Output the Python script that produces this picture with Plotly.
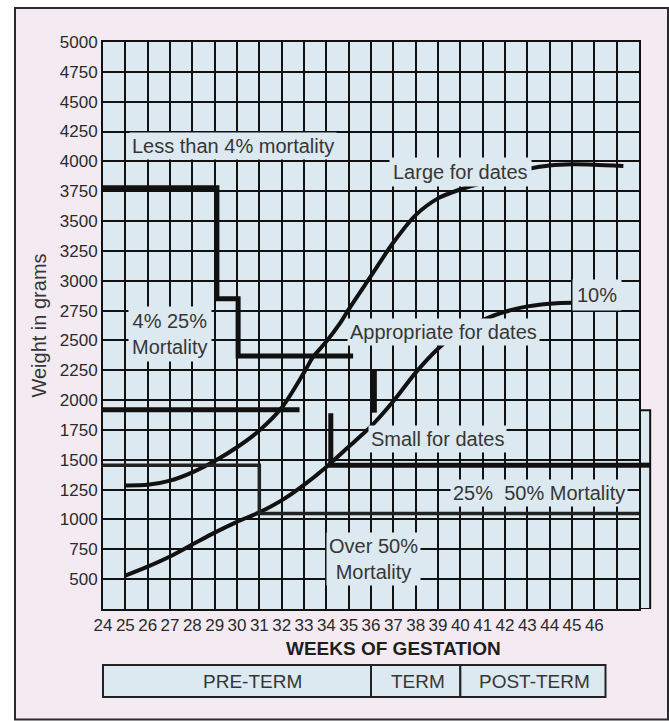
import plotly.graph_objects as go

# ---- axis setup -------------------------------------------------------------
X_RANGE = [24, 48]
Y_RANGE = [250, 5000]
week_ticks = list(range(24, 49))
week_labels = [str(w) for w in range(24, 47)] + ["", ""]
weight_ticks = list(range(500, 5001, 250))

# ---- growth curves (weeks, grams) ------------------------------------------
large_x = [25, 26, 27, 28, 29, 30, 31, 32, 33, 33.4, 34, 34.6, 35, 36, 37, 38,
           39, 40, 41, 42, 43, 44, 45, 46, 47.3]
large_y = [1285, 1290, 1325, 1395, 1490, 1605, 1745, 1935, 2230, 2360, 2490,
           2640, 2760, 3040, 3320, 3550, 3690, 3765, 3820, 3880, 3935, 3965,
           3975, 3972, 3962]

small_x = [25, 26, 27, 28, 29, 30, 31, 32, 33, 34, 35, 36, 37, 38, 39, 40, 41,
           42, 43, 44, 45, 46, 46.9]
small_y = [530, 605, 690, 790, 890, 980, 1060, 1160, 1290, 1440, 1610, 1780,
           1990, 2230, 2430, 2580, 2670, 2740, 2785, 2808, 2815, 2808, 2795]

# ---- mortality zone boundaries ---------------------------------------------
b4_x = [24, 29.1, 29.1, 30.05, 30.05, 35.2]
b4_y = [3780, 3780, 2850, 2850, 2370, 2370]

b4_tail_x = [36.15, 36.15]
b4_tail_y = [2250, 1895]

b25_left_x = [24, 32.8]
b25_left_y = [1920, 1920]

b25_right_x = [34.2, 34.2, 48, 48.5]
b25_right_y = [1890, 1455, 1455, 1455]

b50_x = [24, 31.0, 31.0, 48]
b50_y = [1455, 1455, 1050, 1050]

side_box_top = 1915

# ---- zone labels ------------------------------------------------------------
zone_text = ["Less than 4% mortality", "4% 25%<br>Mortality", "Large for dates",
             "10%", "Appropriate for dates", "Small for dates",
             "25%\u00a0\u00a050% Mortality", "Over 50%<br>Mortality"]
zone_x = [29.8, 27.0, 40.0, 46.1, 39.25, 38.98, 43.52, 36.1]
zone_y = [4127, 2552, 3908, 2879, 2569, 1678, 1218, 665]
zone_pad = [2, 3, 3, 4, 2, 2, 2, 2]

# ---- gestation periods ------------------------------------------------------
period_names = ["PRE-TERM", "TERM", "POST-TERM"]
period_edges = [24, 36, 40, 46.5]
period_label_x = [30.7, 38.1, 43.3]

BLUE = "#dce9f0"
PINK = "#f4eaf2"
INK = "#111111"
TEXT = "#363636"
FONT = "Liberation Sans, Arial, sans-serif"

fig = go.Figure()

common = dict(mode="lines", hoverinfo="skip", showlegend=False)
curve = dict(color=INK, width=4, shape="spline", smoothing=0.8)
step = dict(color=INK, width=5)
fig.add_trace(go.Scatter(x=large_x, y=large_y, line=curve, **common))
fig.add_trace(go.Scatter(x=small_x, y=small_y, line=curve, **common))
fig.add_trace(go.Scatter(x=b4_x, y=b4_y, line=step, **common))
fig.add_trace(go.Scatter(x=b4_tail_x, y=b4_tail_y, line=step, **common))
fig.add_trace(go.Scatter(x=b25_left_x, y=b25_left_y, line=step, **common))
fig.add_trace(go.Scatter(x=b25_right_x[:3], y=b25_right_y[:3], line=step, **common))
fig.add_trace(go.Scatter(x=b50_x, y=b50_y, line=dict(color="#222222", width=3.5), **common))


def px(w):
    """Week value -> paper fraction along the x axis."""
    return (w - X_RANGE[0]) / (X_RANGE[1] - X_RANGE[0])


shapes = [
    # outer card
    dict(type="rect", xref="paper", yref="paper", x0=-0.1642, x1=1.0541,
         y0=-0.195, y1=1.06, fillcolor=PINK, line=dict(color="#2b2b2b", width=2),
         layer="below"),
    # plot background
    dict(type="rect", xref="x", yref="y", x0=X_RANGE[0], x1=X_RANGE[1],
         y0=Y_RANGE[0], y1=Y_RANGE[1], fillcolor=BLUE, line=dict(width=0),
         layer="below"),
    # narrow box on the right of the grid
    dict(type="rect", xref="paper", yref="y", x0=1, x1=px(b25_right_x[-1]),
         y0=Y_RANGE[0], y1=side_box_top, fillcolor=BLUE,
         line=dict(color=INK, width=2), layer="below"),
    # boundary continuing into the side box
    dict(type="line", xref="paper", yref="y", x0=px(b25_right_x[2]),
         x1=px(b25_right_x[3]), y0=b25_right_y[2], y1=b25_right_y[3],
         line=dict(color=INK, width=5)),
]

# gestation period bar
bar_y0, bar_y1 = -0.1552, -0.0988
for i, name in enumerate(period_names):
    shapes.append(dict(type="rect", xref="paper", yref="paper",
                       x0=px(period_edges[i]), x1=px(period_edges[i + 1]),
                       y0=bar_y0, y1=bar_y1, fillcolor=BLUE,
                       line=dict(color="#222222", width=2)))

annotations = []
for t, x, y, p in zip(zone_text, zone_x, zone_y, zone_pad):
    annotations.append(dict(text=t, x=x, y=y, xref="x", yref="y",
                            showarrow=False, bgcolor=BLUE, borderpad=p,
                            xanchor="center", yanchor="middle",
                            font=dict(family=FONT, size=20, color=TEXT)))

for name, x in zip(period_names, period_label_x):
    annotations.append(dict(text=name, x=x, xref="x", y=(bar_y0 + bar_y1) / 2,
                            yref="paper", showarrow=False,
                            xanchor="center", yanchor="middle",
                            font=dict(family=FONT, size=19, color=TEXT)))

annotations.append(dict(text="<b>WEEKS OF GESTATION</b>", x=37.0, xref="x",
                        y=-0.069, yref="paper", showarrow=False,
                        xanchor="center", yanchor="middle",
                        font=dict(family=FONT, size=19, color="#1e1e1e")))

fig.update_layout(
    width=669, height=721,
    margin=dict(l=103, r=30, t=42, b=112),
    paper_bgcolor="white",
    plot_bgcolor="rgba(0,0,0,0)",
    shapes=shapes,
    annotations=annotations,
    font=dict(family=FONT, color="#2a2a2a"),
    xaxis=dict(range=X_RANGE, tickvals=week_ticks, ticktext=week_labels,
               showgrid=True, gridcolor=INK, gridwidth=2, zeroline=False,
               showline=True, linecolor=INK, linewidth=2, mirror=True,
               ticks="", tickfont=dict(size=17, family=FONT, color="#2a2a2a")),
    yaxis=dict(range=Y_RANGE, tickvals=weight_ticks,
               ticktext=[str(v) for v in weight_ticks],
               showgrid=True, gridcolor=INK, gridwidth=2, zeroline=False,
               showline=True, linecolor=INK, linewidth=2, mirror=True,
               ticks="", tickfont=dict(size=17, family=FONT, color="#2a2a2a"),
               title=dict(text="Weight in grams", standoff=8,
                          font=dict(size=20, family=FONT, color=TEXT))),
)

fig.write_html("out.html")
